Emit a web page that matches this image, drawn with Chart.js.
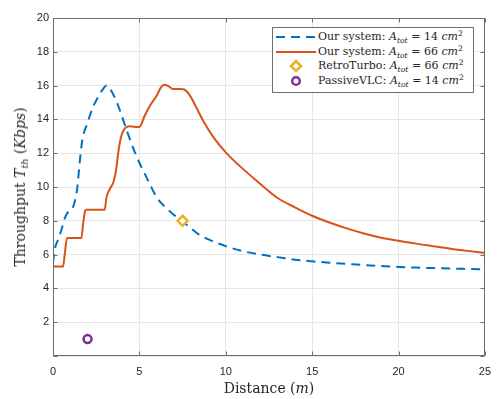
<!DOCTYPE html>
<html>
<head>
<meta charset="utf-8">
<script src="https://cdn.jsdelivr.net/npm/chart.js@4/dist/chart.umd.min.js"></script>
<style>
  html, body { margin: 0; padding: 0; background: #fff; }
  #wrap { position: relative; width: 500px; height: 399px; overflow: hidden; }
  #c { position: absolute; left: 0; top: 0; }
  .serif { font-family: "DejaVu Serif", "Liberation Serif", serif; color: #262626; }
  #ytitle { position: absolute; left: 20px; top: 187px; transform: translate(-50%, -50%) rotate(-90deg); white-space: nowrap; font-size: 14px; }
  #xtitle { position: absolute; left: 269px; top: 388px; transform: translate(-50%, -50%); white-space: nowrap; font-size: 14px; }
  #legend { position: absolute; left: 272px; top: 27px; width: 202px; height: 66px; border: 1px solid #6e6e6e; background: #fff; box-sizing: border-box; font-size: 11px; }
  .row { position: absolute; left: 0; height: 14px; width: 100%; }
  .row .txt { position: absolute; left: 45px; top: 50%; transform: translateY(-50%); white-space: nowrap; line-height: 14px; }
  .row .h { position: absolute; left: 3px; top: 0; width: 40px; height: 14px; }
  sub, sup { font-size: 0.7em; line-height: 0; }
  sub { vertical-align: -0.35em; }
  sup { vertical-align: 0.5em; }
</style>
</head>
<body>
<div id="wrap">
  <canvas id="c" width="500" height="399"></canvas>
  <div id="ytitle" class="serif">Throughput <i>T</i><sub><i>th</i></sub> (<i>Kbps</i>)</div>
  <div id="xtitle" class="serif">Distance (<i>m</i>)</div>
  <div id="legend" class="serif">
    <div class="row" style="top:2px">
      <svg class="h" width="40" height="14"><line x1="0" y1="7" x2="40" y2="7" stroke="#0072BD" stroke-width="2" stroke-dasharray="9,6"/></svg>
      <span class="txt">Our system: <i>A</i><sub><i>tot</i></sub> = 14 <i>cm</i><sup>2</sup></span>
    </div>
    <div class="row" style="top:17px">
      <svg class="h" width="40" height="14"><line x1="0" y1="7" x2="40" y2="7" stroke="#D95319" stroke-width="2"/></svg>
      <span class="txt">Our system: <i>A</i><sub><i>tot</i></sub> = 66 <i>cm</i><sup>2</sup></span>
    </div>
    <div class="row" style="top:31px">
      <svg class="h" width="40" height="14"><polygon points="20,2 25,7 20,12 15,7" fill="#fff" stroke="#EDB120" stroke-width="2.5"/></svg>
      <span class="txt">RetroTurbo: <i>A</i><sub><i>tot</i></sub> = 66 <i>cm</i><sup>2</sup></span>
    </div>
    <div class="row" style="top:46px">
      <svg class="h" width="40" height="14"><circle cx="20" cy="7" r="3.8" fill="#fff" stroke="#7E2F8E" stroke-width="2.5"/></svg>
      <span class="txt">PassiveVLC: <i>A</i><sub><i>tot</i></sub> = 14 <i>cm</i><sup>2</sup></span>
    </div>
  </div>
</div>
<script>
// ---- data ----
const xTicks = [0, 5, 10, 15, 20, 25];
const yTicks = [0, 2, 4, 6, 8, 10, 12, 14, 16, 18, 20];

const blueDist = [0, 0.1, 0.3, 0.5, 0.7, 0.9, 1.1, 1.25, 1.4, 1.55, 1.7, 2.0, 2.3, 2.6, 2.9, 3.1, 3.45, 3.85, 4.25, 4.8, 5.4, 6.0, 6.5, 7.0, 7.5, 8.0, 8.5, 9.0, 10, 11, 12, 13, 14, 15, 16, 17, 18, 19, 20, 21, 22, 23, 24, 25];
const blueThr  = [5.5, 6.3, 6.9, 7.5, 8.2, 8.55, 8.7, 9.1, 9.9, 11.5, 12.8, 13.8, 14.7, 15.3, 15.8, 16.0, 15.55, 14.6, 13.4, 11.9, 10.6, 9.4, 8.8, 8.35, 7.95, 7.55, 7.15, 6.9, 6.5, 6.2, 6.0, 5.85, 5.7, 5.6, 5.52, 5.45, 5.38, 5.32, 5.27, 5.23, 5.2, 5.17, 5.15, 5.13];

const orangeDist = [0, 0.58, 0.68, 0.81, 1.64, 1.74, 1.85, 1.92, 2.99, 3.1, 3.3, 3.5, 3.65, 3.8, 3.95, 4.15, 4.4, 4.75, 5.0, 5.3, 5.6, 6.0, 6.25, 6.45, 6.7, 6.94, 7.3, 7.55, 7.9, 8.3, 8.7, 9.25, 10, 10.8, 11.75, 13, 14, 15, 16, 17, 18, 19, 20, 21, 22, 23, 24, 25];
const orangeThr  = [5.3, 5.3, 6.0, 6.98, 6.98, 7.8, 8.55, 8.65, 8.65, 9.4, 9.9, 10.3, 11.0, 12.2, 13.0, 13.45, 13.6, 13.55, 13.55, 14.2, 14.8, 15.4, 15.9, 16.05, 15.95, 15.8, 15.8, 15.78, 15.45, 14.7, 13.9, 13.0, 12.05, 11.25, 10.4, 9.35, 8.8, 8.3, 7.9, 7.55, 7.25, 7.0, 6.82, 6.65, 6.5, 6.35, 6.22, 6.1];

const retroDist = [7.5];
const retroThr  = [8.0];
const passiveDist = [2.0];
const passiveThr  = [1.0];

const seriesNames = ['Our system: A_tot = 14 cm^2', 'Our system: A_tot = 66 cm^2', 'RetroTurbo: A_tot = 66 cm^2', 'PassiveVLC: A_tot = 14 cm^2'];

const pts = (xs, ys) => xs.map((x, i) => ({ x: x, y: ys[i] }));

const boxPlugin = {
  id: 'box',
  afterDraw(chart) {
    const { ctx, chartArea: a, scales } = chart;
    ctx.save();
    ctx.strokeStyle = '#6e6e6e';
    ctx.lineWidth = 1;
    const L = Math.round(a.left) + 0.5, R = Math.round(a.right) - 0.5;
    const T = Math.round(a.top) + 0.5, B = Math.round(a.bottom) - 0.5;
    ctx.strokeRect(L, T, R - L, B - T);
    const tl = 4;
    ctx.beginPath();
    xTicks.forEach(v => {
      const px = Math.round(scales.x.getPixelForValue(v)) + 0.5;
      ctx.moveTo(px, B); ctx.lineTo(px, B - tl);
      ctx.moveTo(px, T); ctx.lineTo(px, T + tl);
    });
    yTicks.forEach(v => {
      const py = Math.round(scales.y.getPixelForValue(v)) + 0.5;
      ctx.moveTo(L, py); ctx.lineTo(L + tl, py);
      ctx.moveTo(R, py); ctx.lineTo(R - tl, py);
    });
    ctx.stroke();
    ctx.restore();
  }
};

new Chart(document.getElementById('c'), {
  type: 'line',
  data: {
    datasets: [
      { label: seriesNames[0], data: pts(blueDist, blueThr), borderColor: '#0072BD', borderWidth: 2, borderDash: [9, 6], pointRadius: 0, cubicInterpolationMode: 'monotone', fill: false, order: 2 },
      { label: seriesNames[1], data: pts(orangeDist, orangeThr), borderColor: '#D95319', borderWidth: 2, pointRadius: 0, cubicInterpolationMode: 'monotone', fill: false, order: 1 },
      { label: seriesNames[2], data: pts(retroDist, retroThr), showLine: false, pointStyle: 'rectRot', pointRadius: 5, borderWidth: 2.5, borderColor: '#EDB120', backgroundColor: '#ffffff', order: 0 },
      { label: seriesNames[3], data: pts(passiveDist, passiveThr), showLine: false, pointStyle: 'circle', pointRadius: 4, borderWidth: 2.5, borderColor: '#7E2F8E', backgroundColor: '#ffffff', order: 0 }
    ]
  },
  options: {
    responsive: false,
    animation: false,
    devicePixelRatio: 1,
    layout: { padding: { top: 18, right: 15, left: 0, bottom: 0 } },
    plugins: { legend: { display: false }, tooltip: { enabled: false } },
    scales: {
      x: {
        type: 'linear', min: 0, max: 25,
        afterFit(s) { s.height = 43; },
        afterBuildTicks(s) { s.ticks = xTicks.map(v => ({ value: v })); },
        ticks: { color: '#262626', font: { family: 'Liberation Sans', size: 11 }, padding: 9, maxRotation: 0 },
        grid: { color: '#e6e6e6', drawTicks: false },
        border: { display: false }
      },
      y: {
        type: 'linear', min: 0, max: 20,
        afterFit(s) { s.width = 53; },
        afterBuildTicks(s) { s.ticks = yTicks.map(v => ({ value: v })); },
        ticks: { color: '#262626', font: { family: 'Liberation Sans', size: 11 }, padding: 4, callback: v => (v === 0 ? '' : String(v)) },
        grid: { color: '#e6e6e6', drawTicks: false },
        border: { display: false }
      }
    }
  },
  plugins: [boxPlugin]
});
</script>
</body>
</html>
